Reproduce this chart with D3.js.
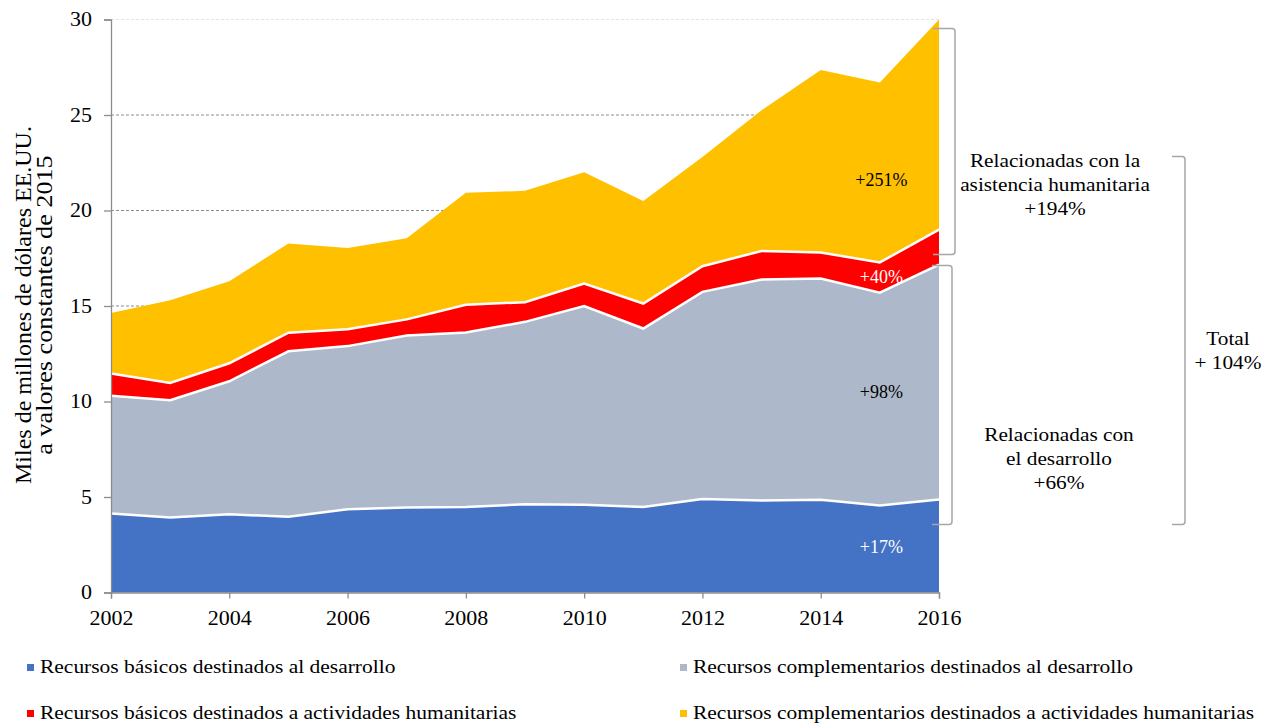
<!DOCTYPE html>
<html>
<head>
<meta charset="utf-8">
<script src="https://cdn.jsdelivr.net/npm/d3@7"></script>
<style>
  body { margin: 0; background: #fff; }
  svg { font-family: "Liberation Serif", "Times New Roman", serif; }
</style>
</head>
<body>
<svg width="1271" height="726"></svg>
<script>
"use strict";

// years on the x axis
var years = [2002, 2003, 2004, 2005, 2006, 2007, 2008, 2009, 2010, 2011, 2012, 2013, 2014, 2015, 2016];

// billions of USD, constant 2015 values
var basicDev = [4.14, 3.93, 4.10, 3.96, 4.36, 4.45, 4.48, 4.62, 4.59, 4.48, 4.90, 4.82, 4.85, 4.55, 4.87];
var complDev = [6.16, 6.14, 6.96, 8.67, 8.54, 9.00, 9.13, 9.55, 10.41, 9.34, 10.84, 11.57, 11.59, 11.15, 12.30];
var basicHum = [1.17, 0.90, 0.94, 0.97, 0.88, 0.85, 1.46, 1.03, 1.17, 1.31, 1.34, 1.49, 1.36, 1.58, 1.83];
var complHum = [3.17, 4.33, 4.30, 4.67, 4.26, 4.25, 5.86, 5.83, 5.83, 5.37, 5.72, 7.37, 9.55, 9.42, 11.00];

var seriesKeys = ["basicDev", "complDev", "basicHum", "complHum"];
var seriesNames = [
  "Recursos básicos destinados al desarrollo",
  "Recursos complementarios destinados al desarrollo",
  "Recursos básicos destinados a actividades humanitarias",
  "Recursos complementarios destinados a actividades humanitarias"
];
var seriesColors = ["#4472C4", "#ADB9CA", "#FF0000", "#FFC000"];

var yTicks = [0, 5, 10, 15, 20, 25, 30];
var xTicks = [2002, 2004, 2006, 2008, 2010, 2012, 2014, 2016];
var gridValues = [15, 20, 25, 30];

// percent labels inside the areas at the right end
var areaLabels = [
  {text: "+17%", value: 2.05, color: "#fff"},
  {text: "+98%", value: 10.2, color: "#000"},
  {text: "+40%", value: 16.2, color: "#fff"},
  {text: "+251%", value: 21.3, color: "#000"}
];

var table = years.map(function(y, i) {
  return {year: y, basicDev: basicDev[i], complDev: complDev[i], basicHum: basicHum[i], complHum: complHum[i]};
});

// the original text is a bit wider than Liberation Serif at the same height
var STRETCH = 1.12;
function widen(sel, k) {
  sel.each(function() {
    var w = this.getComputedTextLength();
    d3.select(this).attr("textLength", w * (k || STRETCH)).attr("lengthAdjust", "spacingAndGlyphs");
  });
}

var svg = d3.select("svg");

var x = d3.scaleLinear().domain([2002, 2016]).range([111, 939]),
    y = d3.scaleLinear().domain([0, 30]).range([592.5, 19.5]);

var stacked = d3.stack().keys(seriesKeys)(table);

// gridlines behind the areas
svg.append("g").selectAll("line")
  .data(gridValues)
  .enter().append("line")
    .attr("x1", x(2002))
    .attr("x2", x(2016))
    .attr("y1", function(d) { return y(d); })
    .attr("y2", function(d) { return y(d); })
    .attr("stroke", function(d) { return d === 30 ? "#e4e4e4" : "#8c8c8c"; })
    .attr("stroke-width", 1)
    .attr("stroke-dasharray", "3,2");

var area = d3.area()
  .x(function(d) { return x(d.data.year); })
  .y0(function(d) { return y(d[0]); })
  .y1(function(d) { return y(d[1]); });

var topLine = d3.line()
  .x(function(d) { return x(d.data.year); })
  .y(function(d) { return y(d[1]); });

svg.append("g").selectAll("path")
  .data(stacked)
  .enter().append("path")
    .attr("d", area)
    .attr("fill", function(d, i) { return seriesColors[i]; });

// white borders between the layers
svg.append("g").selectAll("path")
  .data(stacked.slice(0, 3))
  .enter().append("path")
    .attr("d", function(d) { return topLine(d); })
    .attr("fill", "none")
    .attr("stroke", "#fff")
    .attr("stroke-width", 2.5);

// axes
var yAxis = svg.append("g")
  .attr("transform", "translate(" + x(2002) + ",0)")
  .call(d3.axisLeft(y).tickValues(yTicks).tickSize(7).tickPadding(12).tickFormat(d3.format("d")));

var xAxis = svg.append("g")
  .attr("transform", "translate(0," + y(0) + ")")
  .call(d3.axisBottom(x).tickValues(xTicks).tickSize(6).tickFormat(d3.format("d")));

[yAxis, xAxis].forEach(function(a) {
  a.select(".domain").attr("stroke", "#8c8c8c").attr("stroke-width", 1.3);
  a.selectAll(".tick line").attr("stroke", "#8c8c8c").attr("stroke-width", 1.3);
  a.selectAll(".tick text")
    .attr("fill", "#000")
    .style("font-family", "Liberation Serif")
    .style("font-size", "20px");
});
xAxis.selectAll(".tick text").attr("y", 32).attr("dy", null);
widen(yAxis.selectAll(".tick text"), 1.1);
widen(xAxis.selectAll(".tick text"), 1.1);

// y axis title
var yTitle = svg.append("g")
  .attr("transform", "translate(31,305) rotate(-90)");
yTitle.append("text")
  .attr("text-anchor", "middle")
  .style("font-size", "24px")
  .text("Miles de millones de dólares EE.UU.");
yTitle.append("text")
  .attr("y", 21)
  .attr("text-anchor", "middle")
  .style("font-size", "24px")
  .text("a valores constantes de 2015")
  .call(widen, 1.09);

// labels inside the areas
svg.append("g").selectAll("text")
  .data(areaLabels)
  .enter().append("text")
    .attr("x", x(2015) + 1.5)
    .attr("y", function(d) { return y(d.value); })
    .attr("text-anchor", "middle")
    .attr("fill", function(d) { return d.color; })
    .style("font-size", "18px")
    .text(function(d) { return d.text; });

// brackets on the right
function bracket(x0, x1, y0, y1) {
  var r = 3;
  return "M" + x0 + "," + y0 + " L" + (x1 - r) + "," + y0 +
    " Q" + x1 + "," + y0 + " " + x1 + "," + (y0 + r) +
    " L" + x1 + "," + (y1 - r) +
    " Q" + x1 + "," + y1 + " " + (x1 - r) + "," + y1 +
    " L" + x0 + "," + y1;
}

var bracketData = [
  {x0: 933, x1: 955, y0: 28.5, y1: 254.5},
  {x0: 932, x1: 952, y0: 265.5, y1: 524.5},
  {x0: 1172, x1: 1185, y0: 156.5, y1: 524.5}
];

svg.append("g").selectAll("path")
  .data(bracketData)
  .enter().append("path")
    .attr("d", function(d) { return bracket(d.x0, d.x1, d.y0, d.y1); })
    .attr("fill", "none")
    .attr("stroke", "#a6a6a6")
    .attr("stroke-width", 1.5);

var notes = [
  {x: 1055, y: 167, lines: ["Relacionadas con la", "asistencia humanitaria", "+194%"]},
  {x: 1228, y: 345, lines: ["Total", "+ 104%"]},
  {x: 1059, y: 441, lines: ["Relacionadas con", "el desarrollo", "+66%"]}
];

notes.forEach(function(n) {
  var t = svg.append("g");
  n.lines.forEach(function(l, i) {
    t.append("text")
      .attr("x", n.x)
      .attr("y", n.y + i * 24)
      .attr("text-anchor", "middle")
      .style("font-size", "19px")
      .text(l);
  });
  widen(t.selectAll("text"));
});

// legend, two columns
var legend = svg.append("g").selectAll("g")
  .data(seriesNames)
  .enter().append("g")
    .attr("transform", function(d, i) {
      return "translate(" + (i % 2 === 0 ? 27 : 680) + "," + (i < 2 ? 664 : 710) + ")";
    });

legend.append("rect")
  .attr("width", 7)
  .attr("height", 7)
  .attr("fill", function(d, i) { return seriesColors[i]; });

legend.append("text")
  .attr("x", 13)
  .attr("y", 9)
  .style("font-size", "19px")
  .text(function(d) { return d; });
widen(legend.selectAll("text"), 1.13);
</script>
</body>
</html>
